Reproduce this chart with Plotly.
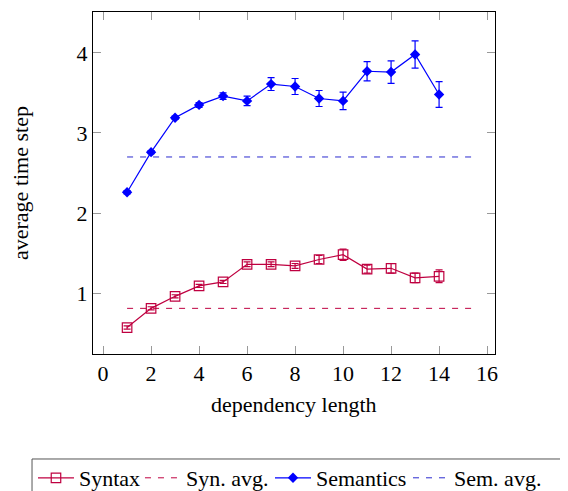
import plotly.graph_objects as go

lengths = list(range(1, 15))
syntax = [0.57, 0.81, 0.96, 1.09, 1.14, 1.36, 1.36, 1.34, 1.42, 1.48, 1.30, 1.31, 1.19, 1.21]
syntax_err = [0.02, 0.02, 0.02, 0.02, 0.02, 0.03, 0.03, 0.03, 0.05, 0.07, 0.05, 0.06, 0.06, 0.08]
semantics = [2.26, 2.76, 3.19, 3.35, 3.46, 3.40, 3.61, 3.58, 3.43, 3.40, 3.77, 3.76, 3.98, 3.48]
semantics_err = [0.02, 0.02, 0.02, 0.03, 0.04, 0.06, 0.08, 0.10, 0.10, 0.11, 0.12, 0.14, 0.17, 0.16]
syn_avg = 0.81
sem_avg = 2.70
avg_x = [1, 15.5]
x_ticks = [0, 2, 4, 6, 8, 10, 12, 14, 16]
y_ticks = [1, 2, 3, 4]

red = "#BF0040"
blue = "#0000FF"
sem_avg_color = "#2A2ACF"
font = "Liberation Serif"
fs = 22

fig = go.Figure()
fig.add_trace(go.Scatter(
    x=lengths, y=syntax, name="Syntax", mode="lines+markers", legend="legend",
    legendwidth=56,
    line=dict(color=red, width=1.2),
    marker=dict(symbol="square-open", size=9.5, color=red, line=dict(width=1.2, color=red)),
    error_y=dict(type="data", array=syntax_err, color=red, thickness=1.2, width=3.5),
))
fig.add_trace(go.Scatter(
    x=avg_x, y=[syn_avg, syn_avg], name="Syn. avg.", mode="lines", legend="legend",
    legendwidth=86,
    line=dict(color=red, width=1, dash="6px,7px"),
))
fig.add_trace(go.Scatter(
    x=lengths, y=semantics, name="Semantics", mode="lines+markers", legend="legend2",
    legendwidth=87,
    line=dict(color=blue, width=1.2),
    marker=dict(symbol="diamond", size=8, color=blue),
    error_y=dict(type="data", array=semantics_err, color=blue, thickness=1.2, width=3.5),
))
fig.add_trace(go.Scatter(
    x=avg_x, y=[sem_avg, sem_avg], name="Sem. avg.", mode="lines", legend="legend2",
    legendwidth=92,
    line=dict(color=sem_avg_color, width=1, dash="6px,7px"),
))

axis_common = dict(
    showline=True, linecolor="black", linewidth=1, mirror="ticks",
    ticks="inside", ticklen=8, tickcolor="#999999", tickwidth=1,
    showgrid=False, zeroline=False,
    tickfont=dict(family=font, size=fs, color="black"),
    automargin=False,
)

legend_common = dict(
    orientation="h", yanchor="middle", y=-0.3626, xanchor="left",
    borderwidth=0, bgcolor="rgba(0,0,0,0)",
    font=dict(family=font, size=fs, color="black"),
    itemwidth=36, tracegroupgap=0,
)

fig.update_layout(
    template="none",
    width=560, height=483,
    margin=dict(l=85, r=73, t=4, b=137, autoexpand=False),
    paper_bgcolor="white", plot_bgcolor="white",
    font=dict(family=font, size=fs, color="black"),
    xaxis=dict(range=[-0.42, 16.33], tickvals=x_ticks, **axis_common),
    yaxis=dict(range=[0.24, 4.51], tickvals=y_ticks, **axis_common),
    showlegend=True,
    legend=dict(x=-0.1493, **legend_common),
    legend2=dict(x=0.4403, **legend_common),
    shapes=[
        dict(type="rect", xref="paper", yref="paper", x0=-0.1517, x1=1.3, y0=-0.307, y1=-0.6,
             line=dict(color="#555555", width=1), fillcolor="rgba(0,0,0,0)", layer="below"),
    ],
    annotations=[
        dict(text="dependency length", xref="paper", yref="paper", x=0.5, y=-0.149,
             xanchor="center", yanchor="middle", showarrow=False,
             font=dict(family=font, size=fs, color="black")),
        dict(text="average time step", xref="paper", yref="paper", x=-0.1816, y=0.5,
             xanchor="center", yanchor="middle", showarrow=False, textangle=-90,
             font=dict(family=font, size=fs, color="black")),
    ],
)

fig.write_html("out.html")
